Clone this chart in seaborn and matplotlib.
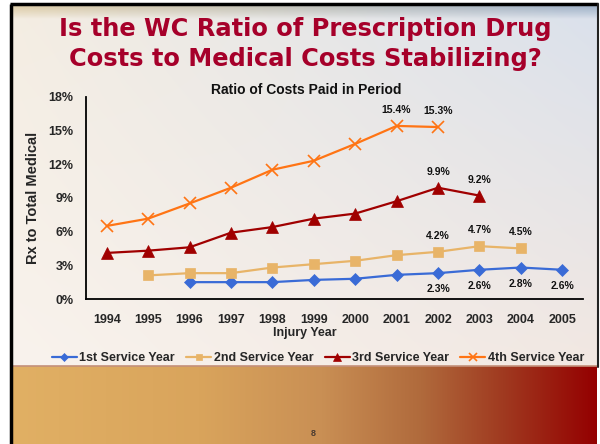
import numpy as np
import matplotlib
matplotlib.use('Agg')
import matplotlib.pyplot as plt
import matplotlib.ticker as mtick
from matplotlib.colors import to_rgb
import pandas as pd
import seaborn as sns

# Chart data
years = list(range(1994, 2006))
first_year = [np.nan, np.nan, 1.5, 1.5, 1.5, 1.7, 1.8, 2.15, 2.3, 2.6, 2.8, 2.6]
second_year = [np.nan, 2.1, 2.3, 2.3, 2.8, 3.1, 3.4, 3.9, 4.2, 4.7, 4.5, np.nan]
third_year = [4.1, 4.3, 4.6, 5.9, 6.4, 7.15, 7.6, 8.7, 9.9, 9.2, np.nan, np.nan]
fourth_year = [6.5, 7.15, 8.5, 9.9, 11.5, 12.3, 13.8, 15.4, 15.3, np.nan, np.nan, np.nan]
series_names = ['1st Service Year', '2nd Service Year', '3rd Service Year', '4th Service Year']

# which points get a value label, and where (above / below)
labels_above = {'2nd Service Year': [2002, 2003, 2004],
                '3rd Service Year': [2002, 2003],
                '4th Service Year': [2001, 2002]}
labels_below = {'1st Service Year': [2002, 2003, 2004, 2005]}
label_text = {('4th Service Year', 2001): '15.4%', ('4th Service Year', 2002): '15.3%',
              ('3rd Service Year', 2002): '9.9%', ('3rd Service Year', 2003): '9.2%',
              ('2nd Service Year', 2002): '4.2%', ('2nd Service Year', 2003): '4.7%',
              ('2nd Service Year', 2004): '4.5%',
              ('1st Service Year', 2002): '2.3%', ('1st Service Year', 2003): '2.6%',
              ('1st Service Year', 2004): '2.8%', ('1st Service Year', 2005): '2.6%'}

df = pd.DataFrame({'year': years, series_names[0]: first_year, series_names[1]: second_year,
                   series_names[2]: third_year, series_names[3]: fourth_year})
long_df = df.melt(id_vars='year', var_name='series', value_name='ratio').dropna()

colors = {'1st Service Year': '#3a6bd6', '2nd Service Year': '#e8b468',
          '3rd Service Year': '#a00000', '4th Service Year': '#ff7414'}
markers = {'1st Service Year': 'D', '2nd Service Year': 's',
           '3rd Service Year': '^', '4th Service Year': 'x'}
msizes = {'1st Service Year': 6, '2nd Service Year': 6.5,
          '3rd Service Year': 8, '4th Service Year': 8}

sns.set_style('white')
plt.rcParams['font.family'] = ['Liberation Sans', 'DejaVu Sans']

W, H = 600, 444
fig = plt.figure(figsize=(6, 4.44), dpi=100)

## Slide background
bg = fig.add_axes([0, 0, 1, 1])
bg.set_xlim(0, W)
bg.set_ylim(H, 0)
bg.axis('off')

xs = np.linspace(0, 1, 300)[None, :, None]
ys = np.linspace(0, 1, 200)[:, None, None]
tl, tr = np.array(to_rgb('#f4ede2')), np.array(to_rgb('#dae1ec'))
bl, br = np.array(to_rgb('#f9f3ed')), np.array(to_rgb('#f2e8e2'))
body = (1 - ys) * ((1 - xs) * tl + xs * tr) + ys * ((1 - xs) * bl + xs * br)
bg.imshow(body, extent=(12, 597, 366, 5), aspect='auto', interpolation='bilinear')

# top strip, tan to steel blue, fading downwards
strip_l, strip_r = np.array(to_rgb('#dccaa2')), np.array(to_rgb('#9aaec6'))
sy = np.linspace(0, 1, 40)[:, None, None]
strip = np.concatenate([((1 - xs) * strip_l + xs * strip_r) * np.ones_like(sy),
                        0.9 * (1 - sy ** 1.2) * np.ones_like(xs[..., :1])], axis=2)
bg.imshow(strip, extent=(12, 597, 19, 5), aspect='auto', interpolation='bilinear')

# bottom band gradient
stops_x = [0, 0.32, 0.53, 0.70, 0.84, 1.0]
stops_c = ['#e1b064', '#d9a45c', '#c98f54', '#b06a3c', '#a03a20', '#940000']
bx = np.linspace(0, 1, 400)
band = np.stack([np.interp(bx, stops_x, [to_rgb(c)[k] for c in stops_c]) for k in range(3)], axis=1)
bg.imshow(band[None, :, :], extent=(12, 597, H, 366), aspect='auto', interpolation='bilinear')
bg.plot([12, 597], [366, 366], color='#c4907a', lw=1.2)

# slide frame
bg.plot([11, 11], [H, 4], color='black', lw=2.5, solid_capstyle='butt')
bg.plot([10, 598], [4, 4], color='black', lw=2.5, solid_capstyle='butt')
bg.plot([597.5, 597.5], [4, 367], color='#222222', lw=1.5)

## Chart
ax = fig.add_axes([86 / W, 1 - 299 / H, 497 / W, (299 - 96.7) / H])
ax.patch.set_alpha(0)

for name in series_names:
    sub = long_df[long_df['series'] == name]
    sns.lineplot(data=sub, x='year', y='ratio', color=colors[name], marker=markers[name],
                 markersize=msizes[name], markeredgecolor=colors[name],
                 markeredgewidth=1.2 if markers[name] == 'x' else 0.5,
                 linewidth=1.6, label=name, ax=ax, legend=False)

for name, yrs in labels_above.items():
    for yr in yrs:
        val = df.loc[df.year == yr, name].iloc[0]
        ax.annotate(label_text[(name, yr)], (yr, val), xytext=(0, 16), textcoords='offset pixels',
                    ha='center', va='center', fontsize=7.5, fontweight='bold', color='#111111')
for name, yrs in labels_below.items():
    for yr in yrs:
        val = df.loc[df.year == yr, name].iloc[0]
        ax.annotate(label_text[(name, yr)], (yr, val), xytext=(0, -16), textcoords='offset pixels',
                    ha='center', va='center', fontsize=7.5, fontweight='bold', color='#111111')

ax.set_xlim(1993.5, 2005.5)
ax.set_ylim(0, 18)
ax.set_xticks(years)
ax.set_yticks(range(0, 19, 3))
ax.yaxis.set_major_formatter(mtick.StrMethodFormatter('{x:.0f}%'))
ax.tick_params(length=0, labelsize=9)
ax.tick_params(axis='x', pad=11)
ax.tick_params(axis='y', pad=9)
for lab in ax.get_xticklabels() + ax.get_yticklabels():
    lab.set_fontweight('bold')

sns.despine(ax=ax)
for side in ['left', 'bottom']:
    ax.spines[side].set_color('black')
    ax.spines[side].set_linewidth(1.3)

ax.set_xlabel('Injury Year', fontsize=9, fontweight='bold')
ax.xaxis.set_label_coords((305 - 86) / 497, -0.14)
ax.set_ylabel('Rx to Total Medical', fontsize=10.5, fontweight='bold')
ax.yaxis.set_label_coords(-0.092, 0.5)

fig.text(306 / W, 1 - 90 / H, 'Ratio of Costs Paid in Period', ha='center', va='center',
         fontsize=10, fontweight='bold', color='#111111')

fig.text(305 / W, 1 - 29 / H, 'Is the WC Ratio of Prescription Drug', ha='center', va='center',
         fontsize=17.4, fontweight='bold', color='#a6002a', family=['DejaVu Sans'])
fig.text(305 / W, 1 - 59 / H, 'Costs to Medical Costs Stabilizing?', ha='center', va='center',
         fontsize=17.4, fontweight='bold', color='#a6002a', family=['DejaVu Sans'])

handles, labs = ax.get_legend_handles_labels()
leg = fig.legend(handles, labs, loc='center', bbox_to_anchor=(318 / W, 1 - 358 / H), ncol=4,
                 frameon=False, handlelength=2.0, handletextpad=0.2, columnspacing=0.9,
                 markerscale=0.75, prop={'size': 9, 'weight': 'bold'})

fig.text(313 / W, 1 - 433 / H, '8', ha='center', va='center', fontsize=6.5,
         fontweight='bold', color='#4a3a30')

plt.savefig('out.png', dpi=100)
